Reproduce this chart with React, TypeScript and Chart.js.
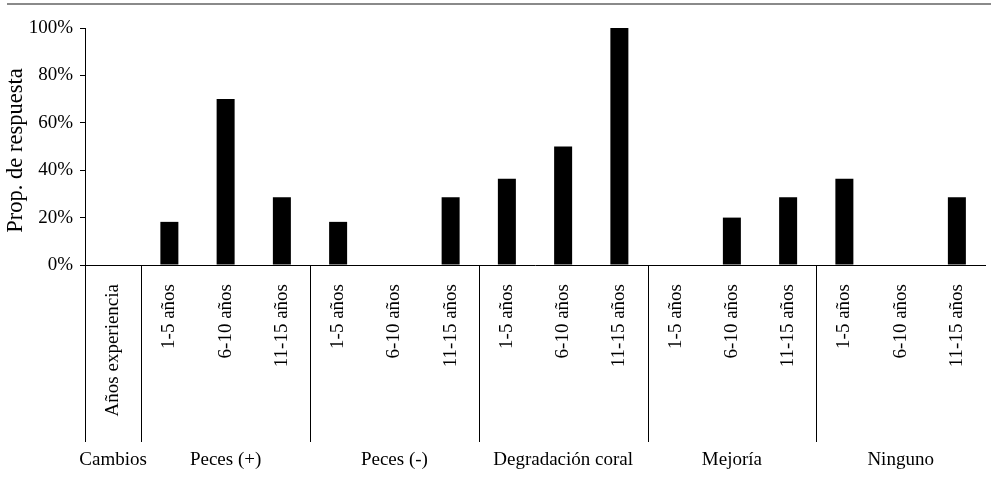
import React, { useEffect, useRef } from "react";
import { Chart, registerables } from "chart.js";

Chart.register(...registerables);

const groups = ["Cambios", "Peces (+)", "Peces (-)", "Degradación coral", "Mejoría", "Ninguno"];
const categories = [
  "Años experiencia",
  "1-5 años", "6-10 años", "11-15 años",
  "1-5 años", "6-10 años", "11-15 años",
  "1-5 años", "6-10 años", "11-15 años",
  "1-5 años", "6-10 años", "11-15 años",
  "1-5 años", "6-10 años", "11-15 años",
];
const values: (number | null)[] = [
  null,
  18.2, 70, 28.6,
  18.2, 0, 28.6,
  36.4, 50, 100,
  0, 20, 28.6,
  36.4, 0, 28.6,
];
const yTicks = [0, 20, 40, 60, 80, 100];
const yTitle = "Prop. de respuesta";

const FONT = '"Liberation Serif", "Times New Roman", serif';

const labelsPlugin = {
  id: "multiLevelLabels",
  afterDraw(chart: any) {
    const ctx = chart.ctx;
    const xs = chart.scales.x;
    const area = chart.chartArea;
    const half = (xs.getPixelForValue(1) - xs.getPixelForValue(0)) / 2;
    const lineBottom = 442;
    ctx.save();
    // top grey rule
    ctx.fillStyle = "#8a8a8a";
    ctx.fillRect(7, 3, chart.width - 7, 2);

    // y title
    ctx.fillStyle = "#000";
    ctx.save();
    ctx.font = "22.5px " + FONT;
    ctx.translate(22, 150.5);
    ctx.rotate(-Math.PI / 2);
    ctx.textAlign = "center";
    ctx.textBaseline = "alphabetic";
    ctx.fillText(yTitle, 0, 0);
    ctx.restore();

    // vertical separators
    ctx.strokeStyle = "#000";
    ctx.lineWidth = 1;
    const bounds: number[] = [area.left];
    bounds.push(xs.getPixelForValue(0) + half);
    for (let g = 1; g < groups.length - 1; g++) {
      bounds.push(xs.getPixelForValue(3 * g) + half);
    }
    bounds.forEach((bx) => {
      const px = Math.round(bx) + 0.5;
      ctx.beginPath();
      ctx.moveTo(px, area.bottom);
      ctx.lineTo(px, lineBottom);
      ctx.stroke();
    });

    // rotated category labels
    ctx.font = "19px " + FONT;
    categories.forEach((c, i) => {
      const cx = xs.getPixelForValue(i);
      ctx.save();
      ctx.translate(cx, 284);
      ctx.rotate(-Math.PI / 2);
      ctx.textAlign = "right";
      ctx.textBaseline = "middle";
      ctx.fillText(c, 0, 0);
      ctx.restore();
    });

    // group labels
    ctx.textAlign = "center";
    ctx.textBaseline = "middle";
    groups.forEach((g, gi) => {
      const cx = gi === 0 ? xs.getPixelForValue(0) : xs.getPixelForValue(3 * gi - 1);
      ctx.fillText(g, cx, 460);
    });
    ctx.restore();
  },
};

export default function App() {
  const ref = useRef<HTMLCanvasElement | null>(null);
  useEffect(() => {
    if (!ref.current) return;
    const chart = new Chart(ref.current, {
      type: "bar",
      data: {
        labels: categories,
        datasets: [
          {
            data: values,
            backgroundColor: "#000",
            borderWidth: 0,
            barThickness: 18,
            inflateAmount: 0,
          } as any,
        ],
      },
      options: {
        animation: false,
        responsive: true,
        maintainAspectRatio: false,
        layout: { padding: { left: 0, right: 6, top: 28, bottom: 0 } },
        plugins: { legend: { display: false }, tooltip: { enabled: false } },
        scales: {
          x: {
            ticks: { display: false },
            grid: { display: false },
            border: { display: true, color: "#000", width: 1 },
            afterFit(scale: any) {
              scale.height = 225;
            },
          },
          y: {
            min: 0,
            max: 100,
            afterBuildTicks(scale: any) {
              scale.ticks = yTicks.map((v) => ({ value: v }));
            },
            ticks: {
              color: "#000",
              font: { family: FONT, size: 19 },
              padding: 7,
              callback: (v: any) => v + "%",
            },
            grid: { drawOnChartArea: false, tickLength: 5, color: "#000" },
            border: { display: true, color: "#000", width: 1 },
            afterFit(scale: any) {
              scale.width = 85;
            },
          },
        },
      },
      plugins: [labelsPlugin],
    });
    return () => chart.destroy();
  }, []);
  return (
    <div style={{ position: "absolute", left: 0, top: 0, width: 991, height: 490, background: "#fff" }}>
      <canvas ref={ref} />
    </div>
  );
}
